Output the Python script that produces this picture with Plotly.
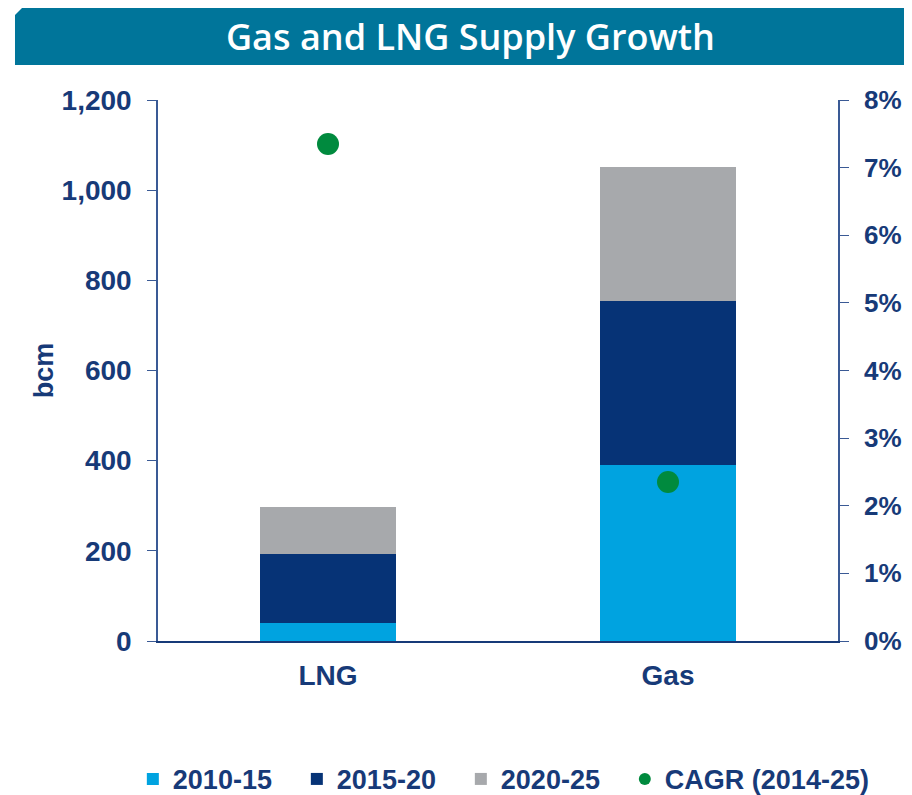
import plotly.graph_objects as go

categories = ["LNG", "Gas"]
s_2010_15 = [41, 390]
s_2015_20 = [151, 364]
s_2020_25 = [105, 297]
cagr = [0.0735, 0.0235]

NAVY = "#173a78"
AXIS = "#3a5a95"
FONT = "Liberation Sans, Arial, sans-serif"

fig = go.Figure()
fig.add_trace(go.Bar(name="2010-15", x=categories, y=s_2010_15, marker_color="#00a3e0",
                     marker_line_width=0))
fig.add_trace(go.Bar(name="2015-20", x=categories, y=s_2015_20, marker_color="#063376",
                     marker_line_width=0))
fig.add_trace(go.Bar(name="2020-25", x=categories, y=s_2020_25, marker_color="#a7a9ac",
                     marker_line_width=0))
fig.add_trace(go.Scatter(name="CAGR (2014-25)", x=categories, y=cagr, yaxis="y2",
                         mode="markers", marker=dict(color="#008a3e", size=22),
                         legendwidth=230))

# page body has an 8px margin, so the figure is sized to end at the window edge
fig.update_layout(
    width=904, height=787,
    margin=dict(l=150, r=74, t=92, b=154, autoexpand=False),
    barmode="stack", bargap=0.6,
    plot_bgcolor="white", paper_bgcolor="white",
    font=dict(family=FONT, size=27, color=NAVY, weight="bold"),
    xaxis=dict(showline=True, linecolor=NAVY, linewidth=2, ticks="", showgrid=False,
               automargin=False, ticklabelstandoff=8,
               tickfont=dict(size=28, color=NAVY, weight="bold")),
    yaxis=dict(range=[0, 1200], tickvals=[0, 200, 400, 600, 800, 1000, 1200],
               tickformat=",d", showline=True, linecolor=AXIS, linewidth=1.5,
               ticks="outside", ticklen=9, tickcolor=AXIS, showgrid=False,
               zeroline=False, automargin=False, ticklabelstandoff=10,
               title=dict(text="bcm", standoff=0, font=dict(size=27, color=NAVY, weight="bold")),
               tickfont=dict(size=28, color=NAVY, weight="bold")),
    yaxis2=dict(range=[0, 0.08], overlaying="y", side="right", tickformat=".0%",
                dtick=0.01, showline=True, linecolor=AXIS, linewidth=1.5,
                ticks="outside", ticklen=9, tickcolor=AXIS, showgrid=False,
                zeroline=False, automargin=False, ticklabelstandoff=10,
                tickfont=dict(size=26, color=NAVY, weight="bold")),
    legend=dict(orientation="h", x=-0.037, xanchor="left", y=-0.2105, yanchor="top",
                itemsizing="constant", entrywidth=119, entrywidthmode="pixels",
                font=dict(size=27, color=NAVY, weight="bold"), traceorder="normal"),
    showlegend=True,
    shapes=[dict(type="path", xref="paper", yref="paper",
                 path="M -0.2103,1.0647 L -0.2103,1.1571 L -0.1956,1.1756 L 1.1088,1.1756 L 1.1088,1.0647 Z",
                 fillcolor="#00759a", line=dict(width=0), layer="below")],
    annotations=[dict(text="Gas and LNG Supply Growth", xref="paper", yref="paper",
                      x=0.459, y=1.1165, xanchor="center", yanchor="middle", showarrow=False,
                      font=dict(family="Open Sans, sans-serif", size=36, color="white", weight=600))],
)

fig.write_html("out.html")
